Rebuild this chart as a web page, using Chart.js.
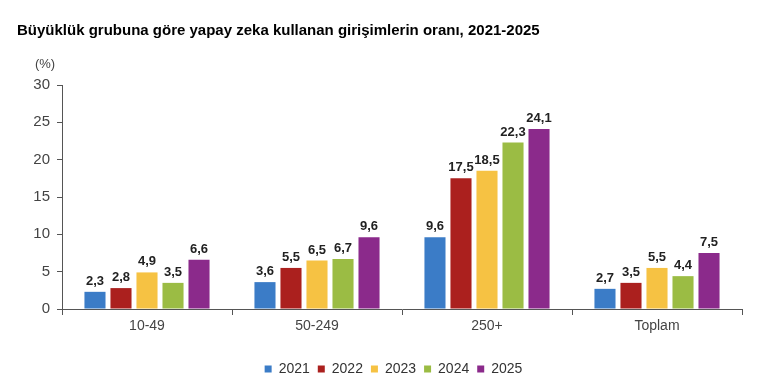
<!doctype html>
<html lang="tr">
    <head>
        <meta charset="UTF-8" />
        <title>Yapay zeka kullanan girişimlerin oranı</title>
        <script src="https://cdn.jsdelivr.net/npm/chart.js"></script>
        <style>
            html, body { margin: 0; padding: 0; background: #fff; }
            #wrap { width: 777px; height: 391px; position: relative; }
            #title {
                position: absolute;
                left: 17px;
                top: 21px;
                font: bold 15px "Liberation Sans", Arial, sans-serif;
                color: #000;
                white-space: nowrap;
            }
        </style>
    </head>
    <body>
        <div id="wrap">
            <div id="title">Büyüklük grubuna göre yapay zeka kullanan girişimlerin oranı, 2021-2025</div>
            <canvas id="myChart"></canvas>
        </div>
        <script>
            var categories = ["10-49", "50-249", "250+", "Toplam"];
            var years = ["2021", "2022", "2023", "2024", "2025"];
            var v2021 = [2.3, 3.6, 9.6, 2.7];
            var v2022 = [2.8, 5.5, 17.5, 3.5];
            var v2023 = [4.9, 6.5, 18.5, 5.5];
            var v2024 = [3.5, 6.7, 22.3, 4.4];
            var v2025 = [6.6, 9.6, 24.1, 7.5];
            var yTicks = [0, 5, 10, 15, 20, 25, 30];
            var colors = ["#3b7cc7", "#ab201e", "#f6c243", "#9bbc44", "#8b2a8b"];

            var series = [v2021, v2022, v2023, v2024, v2025];
            var fontFamily = "'Liberation Sans', Arial, sans-serif";

            // values above bars, with comma decimals
            var valueLabels = {
                id: "valueLabels",
                afterLayout: function (chart) {
                    // legend sits a bit right of the page centre in the original
                    chart.legend.left += 14;
                    chart.legend.right += 14;
                },
                afterDatasetsDraw: function (chart) {
                    var ctx = chart.ctx;
                    ctx.save();
                    ctx.font = "bold 13px " + fontFamily;
                    ctx.fillStyle = "#222";
                    ctx.textAlign = "center";
                    ctx.textBaseline = "bottom";
                    chart.data.datasets.forEach(function (ds, i) {
                        chart.getDatasetMeta(i).data.forEach(function (bar, j) {
                            var txt = ds.data[j].toFixed(1).replace(".", ",");
                            ctx.fillText(txt, bar.x, bar.y - 4);
                        });
                    });
                    // (%) unit label above the y axis
                    var y = chart.scales.y;
                    ctx.font = "13px " + fontFamily;
                    ctx.fillStyle = "#444";
                    ctx.textBaseline = "middle";
                    ctx.fillText("(%)", y.right - 17, y.top - 21);
                    ctx.restore();
                }
            };

            new Chart(document.getElementById("myChart"), {
                type: "bar",
                data: {
                    labels: categories,
                    datasets: years.map(function (yr, i) {
                        return {
                            label: yr,
                            data: series[i],
                            backgroundColor: colors[i],
                            categoryPercentage: 0.765,
                            barPercentage: 0.81
                        };
                    })
                },
                options: {
                    responsive: true,
                    maintainAspectRatio: false,
                    animation: false,
                    layout: { padding: { left: 17, right: 35, top: 85, bottom: 5 } },
                    plugins: {
                        legend: {
                            position: "bottom",
                            labels: {
                                boxWidth: 7,
                                boxHeight: 7,
                                color: "#333",
                                font: { family: fontFamily, size: 14 },
                                padding: 8
                            }
                        },
                        tooltip: { enabled: false }
                    },
                    scales: {
                        x: {
                            offset: true,
                            afterFit: function (scale) {
                                scale.height = 45;
                            },
                            grid: {
                                offset: true,
                                drawOnChartArea: false,
                                drawTicks: true,
                                tickLength: 6,
                                color: "#555"
                            },
                            border: { color: "#555", width: 1 },
                            ticks: { color: "#444", font: { family: fontFamily, size: 14 }, padding: 3 }
                        },
                        y: {
                            min: 0,
                            max: 30,
                            afterFit: function (scale) {
                                scale.width = 45;
                            },
                            afterBuildTicks: function (axis) {
                                axis.ticks = yTicks.map(function (v) { return { value: v }; });
                            },
                            grid: {
                                drawOnChartArea: false,
                                drawTicks: true,
                                tickLength: 5,
                                color: "#555"
                            },
                            border: { color: "#555", width: 1 },
                            ticks: { color: "#444", font: { family: fontFamily, size: 15 }, padding: 7 }
                        }
                    }
                },
                plugins: [valueLabels]
            });
        </script>
    </body>
</html>
